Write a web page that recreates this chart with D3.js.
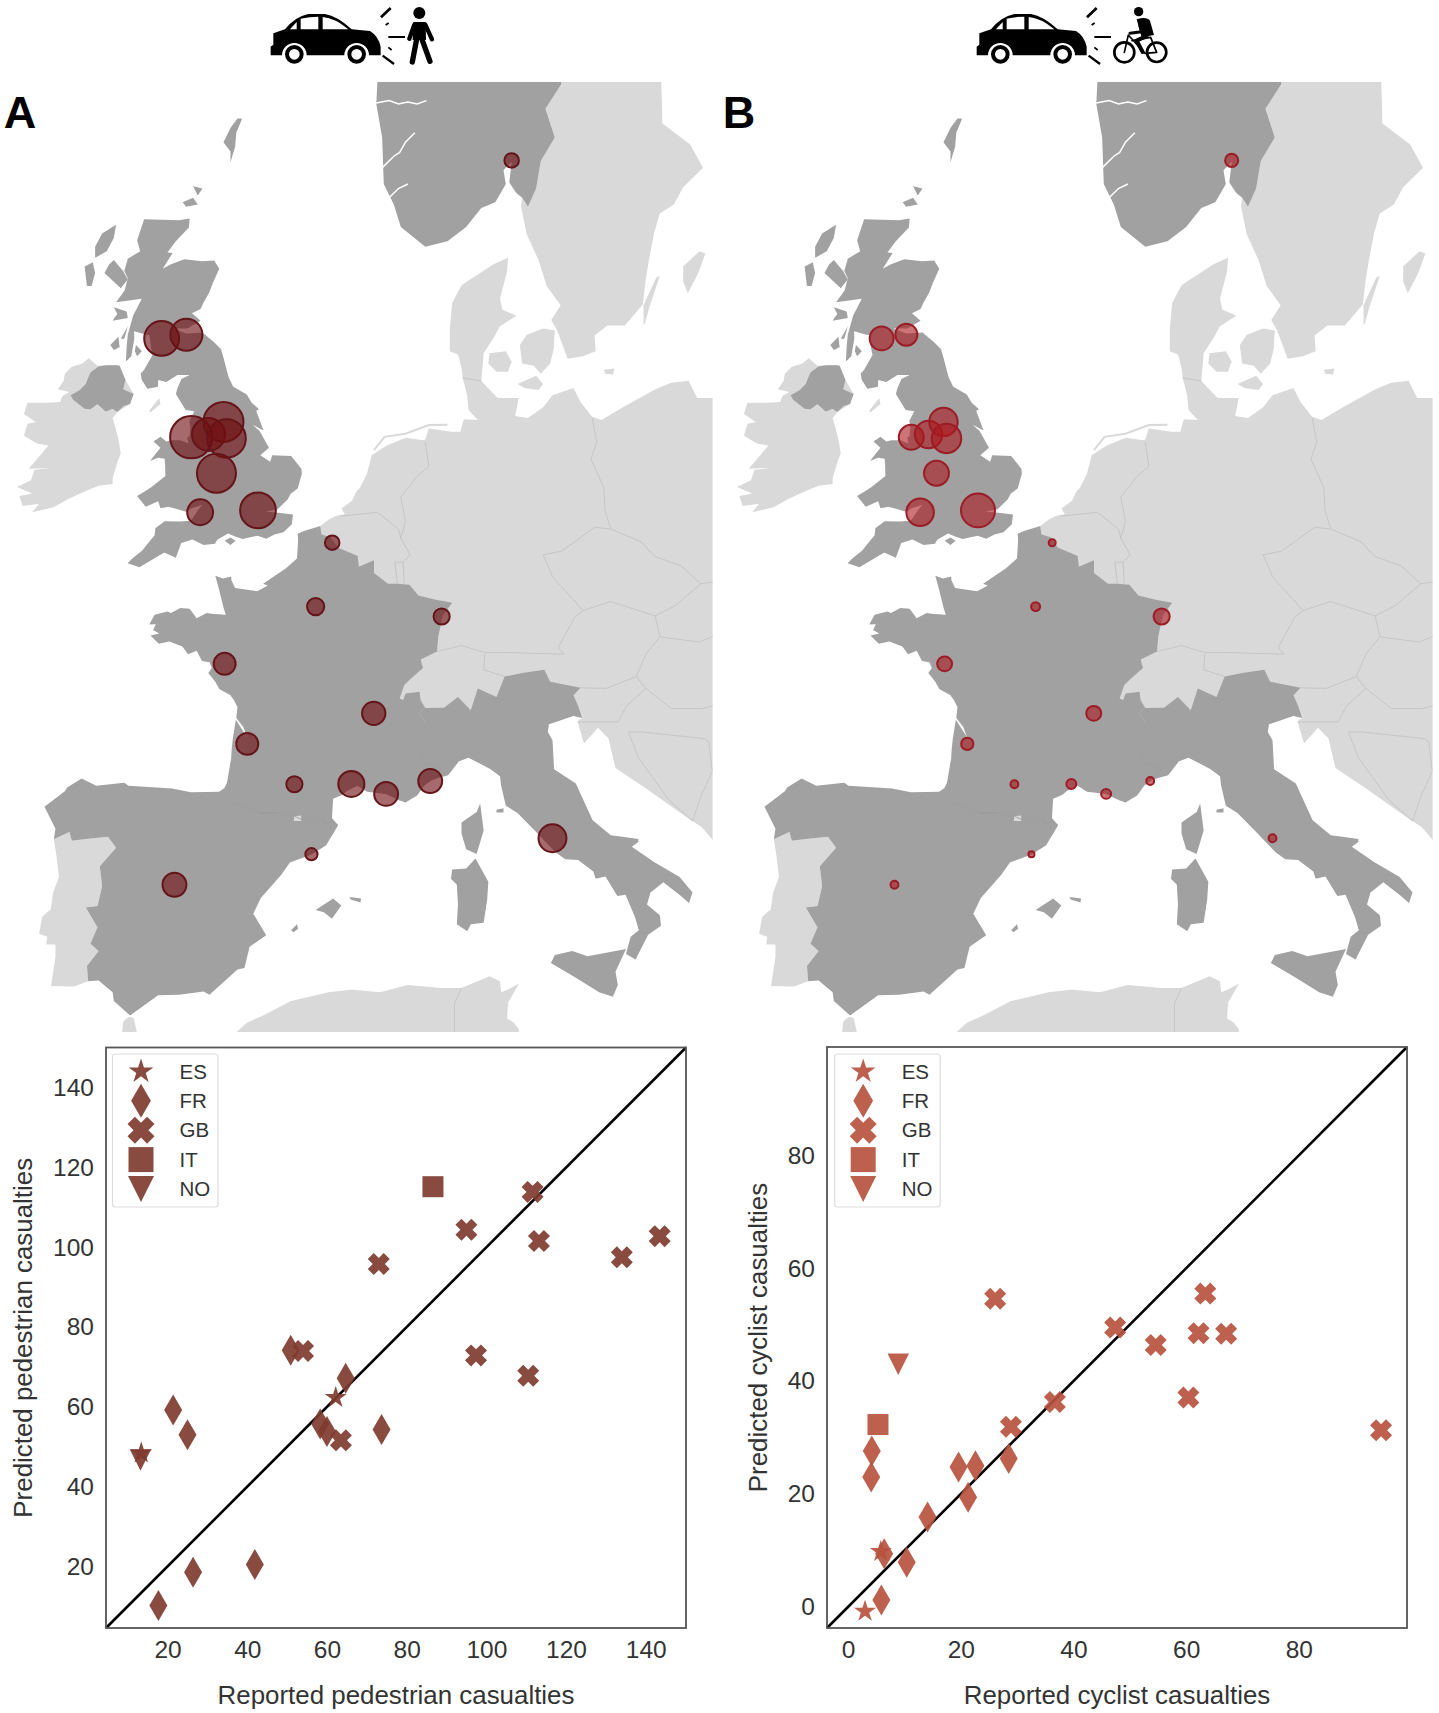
<!DOCTYPE html>
<html>
<head>
<meta charset="utf-8">
<script src="https://cdn.jsdelivr.net/npm/d3@7"></script>
<style>
  html, body { margin: 0; background: #fff; }
  text { font-family: "Liberation Sans", Arial, sans-serif; fill: #333; }
  .panel-letter { font-size: 45px; font-weight: bold; fill: #000; }
  .axis-label { font-size: 25.9px; }
  .legend-label { font-size: 20.5px; }
  .tick text { font-size: 24.5px; fill: #333; }
</style>
</head>
<body>
<script>
const w = 1439,
  h = 1713;

// reported / predicted casualties per country
const pedGB = [[73, 95.8], [95, 104.4], [111.6, 113.9], [113.2, 101.6], [134, 97.5], [143.5, 102.8], [97.4, 72.9], [110.5, 67.8], [54, 74], [63.5, 51.6]];
const pedFR = [[50.9, 74.2], [21.4, 59.2], [25, 53], [64.7, 67.2], [58.3, 55.7], [60, 53.8], [73.7, 54.3], [41.9, 20.5], [26.4, 18.5], [17.7, 10.2]];
const pedES = [[62.2, 62.3], [13.4, 48.4]];
const pedNO = [[13.2, 46.7]];
const pedIT = [[86.6, 115.2]];

const cycGB = [[26.1, 54.6], [63.4, 55.5], [47.4, 49.5], [62.2, 48.5], [67.1, 48.4], [54.6, 46.4], [60.4, 37.1], [36.7, 36.3], [28.9, 31.9], [94.6, 31.3]];
const cycFR = [[4.2, 27.6], [4.1, 23], [19.6, 24.8], [22.6, 25], [28.5, 26.3], [21.3, 19.4], [14.1, 15.9], [6.4, 9.4], [10.4, 7.9], [5.9, 1.2]];
const cycES = [[5.8, 9.8], [3, -0.8]];
const cycNO = [[8.9, 43]];
const cycIT = [[5.3, 32.3]];

const countries = ["ES", "FR", "GB", "IT", "NO"];
const pedTicks = [20, 40, 60, 80, 100, 120, 140];
const cycTicks = [0, 20, 40, 60, 80];

// cities on the maps, lon / lat
const cityNames = ["Glasgow", "Edinburgh", "Liverpool", "Manchester", "Leeds", "Sheffield", "Birmingham", "Bristol", "London", "Oslo", "Lille", "Paris", "Strasbourg", "Nantes", "Lyon", "Bordeaux", "Toulouse", "Montpellier", "Marseille", "Nice", "Barcelona", "Madrid", "Rome"];
const cityLon = [-4.25, -3.19, -2.98, -2.24, -1.6, -1.47, -1.9, -2.6, -0.12, 10.75, 3.06, 2.35, 7.75, -1.55, 4.84, -0.58, 1.44, 3.88, 5.37, 7.26, 2.17, -3.7, 12.5];
const cityLat = [55.86, 55.95, 53.41, 53.48, 53.8, 53.38, 52.48, 51.45, 51.5, 59.91, 50.63, 48.86, 48.58, 47.22, 45.76, 44.84, 43.6, 43.61, 43.3, 43.7, 41.39, 40.4, 41.9];
// bubble sizes, estimated from the circles
const cityPed = [98, 83, 144, 88, 129, 120, 123, 54, 103, 17, 17, 24, 21, 39, 44, 39, 21, 55, 46, 46, 12, 46, 63];
const cityCyc = [46, 39, 50, 61, 65, 70, 50, 61, 93, 14, 4, 6.5, 21, 18, 18, 12, 5, 8, 8, 5, 3, 5, 5];

// coast and border outlines, lon / lat
const greatBritain = [[-5, 58.62], [-3.5, 58.6], [-3.05, 58.64], [-3.08, 58.44], [-3.65, 58.12], [-4, 57.87], [-3.78, 57.86], [-4.2, 57.5], [-3.87, 57.6], [-3.28, 57.72], [-2.52, 57.67], [-2, 57.69], [-1.78, 57.5], [-2.07, 57.15], [-2.2, 56.96], [-2.46, 56.7], [-2.58, 56.56], [-2.95, 56.46], [-2.58, 56.28], [-3.15, 56.1], [-3.75, 56.1], [-3.2, 55.98], [-2.5, 56], [-2, 55.77], [-1.7, 55.6], [-1.57, 55.33], [-1.42, 55], [-1.37, 54.9], [-1.18, 54.68], [-0.6, 54.49], [-0.39, 54.28], [-0.08, 54.12], [-0.2, 54.08], [0.12, 53.58], [-0.35, 53.73], [-0.05, 53.57], [0.35, 53.14], [-0.02, 52.95], [0.4, 52.78], [0.49, 52.95], [1.3, 52.93], [1.74, 52.6], [1.76, 52.47], [1.58, 52.08], [1.28, 51.94], [1.15, 51.79], [0.72, 51.53], [0.2, 51.47], [0.76, 51.44], [1.38, 51.39], [1.33, 51.13], [0.97, 50.91], [0.58, 50.85], [0.24, 50.74], [-0.14, 50.82], [-0.78, 50.73], [-1.1, 50.8], [-1.4, 50.88], [-1.87, 50.71], [-1.96, 50.6], [-2.45, 50.57], [-2.93, 50.72], [-3.41, 50.62], [-3.64, 50.22], [-4.14, 50.36], [-5.2, 49.96], [-5.71, 50.07], [-5.48, 50.21], [-5.08, 50.42], [-4.93, 50.54], [-4.55, 50.83], [-4.52, 51.02], [-4.12, 51.21], [-3.47, 51.2], [-3, 51.22], [-2.7, 51.5], [-2.5, 51.65], [-3, 51.55], [-3.17, 51.46], [-3.95, 51.6], [-4.3, 51.56], [-4.4, 51.74], [-4.93, 51.6], [-5.3, 51.88], [-4.98, 52], [-4.68, 52.12], [-4.09, 52.41], [-4.1, 52.7], [-4.12, 52.86], [-4.4, 52.88], [-4.75, 52.8], [-4.3, 53.14], [-4.6, 53.3], [-4.3, 53.42], [-4.05, 53.3], [-3.83, 53.33], [-3.45, 53.33], [-3.1, 53.25], [-3.15, 53.4], [-3.05, 53.45], [-3.02, 53.65], [-3.06, 53.83], [-2.85, 54.07], [-3.22, 54.1], [-3.64, 54.5], [-3.57, 54.65], [-3.4, 54.87], [-3.05, 54.97], [-3.57, 54.97], [-4.05, 54.8], [-4.4, 54.85], [-4.4, 54.68], [-4.86, 54.63], [-5.1, 54.85], [-5.15, 55], [-5, 55.1], [-4.64, 55.46], [-4.7, 55.62], [-4.77, 55.95], [-4.5, 55.92], [-4.9, 55.95], [-5.43, 56.03], [-5.42, 55.86], [-5.55, 55.43], [-5.78, 55.3], [-5.75, 55.65], [-5.7, 55.95], [-5.47, 56.41], [-5.1, 56.8], [-6.2, 56.72], [-5.83, 57], [-5.7, 57.28], [-5.85, 57.45], [-5.7, 57.73], [-5.17, 57.9], [-5.3, 58.15]];
const scottishIslands = [
  [[-6.2, 58.5], [-6.3, 58.2], [-6.6, 57.9], [-7.1, 57.75], [-7.1, 58], [-6.8, 58.3]],
  [[-7.2, 57.65], [-7.1, 57.4], [-7.25, 57.1], [-7.45, 57.1], [-7.55, 57.55]],
  [[-6.3, 57.7], [-5.9, 57.45], [-5.7, 57.25], [-6, 57.05], [-6.3, 57.2], [-6.7, 57.4], [-6.5, 57.6]],
  [[-6.3, 56.6], [-5.75, 56.5], [-5.7, 56.35], [-6.35, 56.28], [-6.15, 56.45]],
  [[-6.45, 55.7], [-6.1, 55.9], [-6.05, 55.65], [-6.3, 55.58]],
  [[-6, 55.85], [-5.7, 56.15], [-5.85, 55.85]],
  [[-5.35, 55.7], [-5.1, 55.55], [-5.3, 55.43], [-5.4, 55.55]],
  [[-3.35, 59], [-2.9, 59.1], [-2.7, 58.95], [-3.2, 58.9]],
  [[-2.9, 59.35], [-2.5, 59.3], [-2.7, 59.15]],
  [[-1.3, 59.87], [-1.1, 60.2], [-1.05, 60.5], [-0.8, 60.8], [-1.0, 60.8], [-1.3, 60.6], [-1.6, 60.3], [-1.3, 60.1]],
  [[-1.55, 50.68], [-1.3, 50.77], [-1.08, 50.68], [-1.3, 50.57]]
];
const northernIreland = [[-7.3, 55.03], [-6.95, 55.18], [-6.65, 55.21], [-6.2, 55.21], [-6.05, 55.2], [-5.8, 54.85], [-5.9, 54.62], [-5.45, 54.5], [-5.55, 54.35], [-5.6, 54.25], [-5.88, 54.2], [-6.15, 54.05], [-6.35, 54.13], [-6.65, 54.06], [-7, 54.25], [-7.3, 54.12], [-7.55, 54.13], [-8.05, 54.36], [-8.15, 54.47], [-7.75, 54.6], [-7.5, 54.75], [-7.45, 54.83]];
const ireland = [[-7.37, 55.38], [-7, 55.2], [-6.2, 55.21], [-6.05, 55.2], [-5.8, 54.85], [-5.45, 54.5], [-5.6, 54.25], [-6.15, 54.05], [-6.35, 53.9], [-6.25, 53.7], [-6.1, 53.35], [-6, 53], [-6.15, 52.75], [-6.35, 52.35], [-6.35, 52.2], [-6.95, 52.15], [-7.55, 52], [-8.25, 51.8], [-8.9, 51.58], [-9.8, 51.45], [-9.5, 51.68], [-10.2, 51.62], [-10.35, 51.88], [-9.8, 51.95], [-10.45, 52.12], [-9.85, 52.3], [-9.7, 52.57], [-9, 52.62], [-9.95, 52.6], [-9.45, 52.95], [-9.1, 53.2], [-9.6, 53.25], [-10.15, 53.45], [-10, 53.75], [-9.65, 53.8], [-10.15, 54], [-10, 54.28], [-9.2, 54.28], [-8.6, 54.3], [-8.5, 54.45], [-8.2, 54.55], [-8.7, 54.62], [-8.45, 54.82], [-8.4, 55], [-8.1, 55.17], [-7.65, 55.25]];
const isleOfMan = [[-4.8, 54.07], [-4.35, 54.4], [-4.3, 54.25], [-4.7, 54.05]];
const france = [[2.55, 51.08], [1.85, 50.95], [1.58, 50.87], [1.6, 50.7], [1.55, 50.2], [1.08, 49.93], [0.1, 49.5], [0.3, 49.45], [-0.15, 49.29], [-1.1, 49.38], [-1.26, 49.6], [-1.27, 49.7], [-1.62, 49.65], [-1.95, 49.72], [-1.8, 49.37], [-1.6, 48.84], [-1.5, 48.63], [-2.03, 48.65], [-2.32, 48.68], [-2.75, 48.53], [-3.05, 48.8], [-3.45, 48.82], [-3.85, 48.68], [-4, 48.72], [-4.55, 48.63], [-4.78, 48.35], [-4.5, 48.36], [-4.62, 48.2], [-4.35, 48.1], [-4.73, 48.04], [-4.37, 47.8], [-3.92, 47.87], [-3.36, 47.72], [-3.12, 47.5], [-2.75, 47.6], [-2.52, 47.3], [-2.2, 47.27], [-2.1, 47.1], [-2.25, 46.95], [-1.95, 46.7], [-1.78, 46.48], [-1.3, 46.3], [-1.15, 46.15], [-1, 45.95], [-1.05, 45.62], [-0.75, 45.35], [-0.6, 45.05], [-0.78, 45.25], [-1.07, 45.57], [-1.2, 45], [-1.25, 44.65], [-1.27, 44.4], [-1.45, 43.65], [-1.56, 43.48], [-1.78, 43.37], [-1.4, 43.05], [-0.75, 42.95], [0, 42.7], [0.7, 42.7], [1.45, 42.6], [1.73, 42.5], [2.5, 42.35], [3.17, 42.43], [3.05, 42.55], [3.1, 43.15], [3.5, 43.27], [3.7, 43.4], [4.15, 43.55], [4.55, 43.37], [5.35, 43.3], [5.93, 43.1], [6.2, 43.03], [6.7, 43.25], [7, 43.55], [7.27, 43.7], [7.52, 43.78], [7.7, 44.1], [7, 44.25], [6.9, 44.4], [7.05, 44.7], [6.65, 45.05], [7.1, 45.45], [6.8, 45.75], [7.05, 45.92], [6.85, 46.15], [6.8, 46.4], [6.2, 46.35], [6.1, 46.15], [5.95, 46.2], [6.15, 46.6], [6.45, 46.8], [6.95, 47.1], [6.85, 47.35], [7.55, 47.58], [7.6, 48], [7.8, 48.6], [8.2, 48.97], [7.5, 49.05], [6.75, 49.17], [6.37, 49.47], [5.85, 49.5], [5.45, 49.5], [4.85, 49.8], [4.85, 50.15], [4.2, 49.97], [4.15, 50.27], [3.3, 50.5], [3, 50.78], [2.6, 50.85]];
const spain = [[-1.78, 43.37], [-3, 43.35], [-3.8, 43.47], [-5.67, 43.55], [-5.85, 43.65], [-7.05, 43.55], [-7.68, 43.78], [-8.3, 43.5], [-8.4, 43.38], [-9.27, 42.9], [-8.8, 42.2], [-8.87, 41.87], [-8.2, 42.1], [-8.1, 41.82], [-7.2, 41.9], [-6.55, 41.95], [-6.2, 41.6], [-6.9, 41], [-6.8, 40.35], [-7, 39.7], [-7.5, 39.65], [-7, 39], [-7.3, 38.45], [-6.95, 38.2], [-7.45, 37.7], [-7.4, 37.18], [-6.95, 37.2], [-6.35, 36.8], [-6.3, 36.5], [-5.6, 36], [-5.35, 36.15], [-4.4, 36.7], [-3.5, 36.72], [-2.45, 36.83], [-2.2, 36.72], [-1, 37.58], [-0.7, 37.63], [-0.48, 38.35], [0.23, 38.73], [-0.32, 39.45], [0, 39.97], [0.87, 40.72], [1.25, 41.12], [2.18, 41.38], [2.8, 41.68], [3.32, 42.32], [3.17, 42.43], [2.5, 42.35], [1.73, 42.5], [1.45, 42.6], [0.7, 42.7], [0, 42.7], [-0.75, 42.95], [-1.4, 43.05]];
const portugal = [[-8.87, 41.87], [-8.75, 41.3], [-8.65, 40.65], [-8.9, 40.15], [-9, 39.6], [-9.37, 39.35], [-9.5, 38.78], [-9.15, 38.68], [-9.2, 38.42], [-8.8, 38.42], [-8.8, 38], [-8.99, 37.02], [-8, 37], [-7.4, 37.18], [-7.45, 37.7], [-6.95, 38.2], [-7.3, 38.45], [-7, 39], [-7.5, 39.65], [-7, 39.7], [-6.8, 40.35], [-6.9, 41], [-6.2, 41.6], [-6.55, 41.95], [-7.2, 41.9], [-8.1, 41.82], [-8.2, 42.1]];
const italy = [[7.52, 43.78], [8.03, 43.88], [8.48, 44.3], [8.9, 44.42], [9.83, 44.07], [10.25, 43.85], [10.3, 43.55], [10.5, 42.93], [11, 42.7], [11.8, 42.1], [12.25, 41.75], [12.63, 41.45], [13.05, 41.23], [13.6, 41.2], [14.25, 40.83], [14.35, 40.6], [14.77, 40.67], [15.28, 40.03], [15.63, 40.07], [16.03, 39.35], [16.2, 38.9], [15.85, 38.68], [15.65, 38.1], [16.06, 37.92], [16.6, 38.75], [17.15, 39.05], [17.1, 39.4], [16.55, 39.75], [16.7, 40.15], [17.25, 40.48], [17.98, 40.05], [18.35, 39.8], [18.5, 40.15], [17.95, 40.65], [16.87, 41.13], [15.9, 41.63], [16.18, 41.78], [16.18, 41.88], [15.65, 41.93], [15, 42], [14.22, 42.47], [13.5, 43.62], [12.57, 44.06], [12.5, 44.95], [12.3, 45.2], [12.35, 45.43], [13.4, 45.68], [13.77, 45.62], [13.6, 45.98], [13.4, 46.3], [13.7, 46.52], [12.4, 46.7], [12.15, 47.05], [11.2, 46.95], [10.45, 46.85], [10.1, 46.25], [9.3, 46.5], [9, 45.85], [8.45, 46.25], [7.85, 45.93], [7.05, 45.92], [6.8, 45.75], [7.1, 45.45], [6.65, 45.05], [7.05, 44.7], [6.9, 44.4], [7, 44.25], [7.7, 44.1]];
const medIslands = [
  [[12.43, 37.8], [12.6, 38.07], [13.35, 38.2], [14, 38.03], [15.2, 38.2], [15.65, 38.27], [15.2, 37.5], [15.3, 37.05], [15.09, 36.65], [14.5, 36.8], [13.5, 37.3]],
  [[8.2, 40.9], [8.8, 40.93], [9.2, 41.25], [9.75, 40.5], [9.7, 39.9], [9.55, 39.15], [9, 39.1], [8.85, 38.87], [8.4, 39.1], [8.45, 39.75], [8.4, 40.4], [8.15, 40.6]],
  [[9.4, 43], [9.55, 42.15], [9.25, 41.4], [8.8, 41.55], [8.6, 42.05], [8.6, 42.4], [9.25, 42.73]],
  [[2.35, 39.57], [3.1, 39.95], [3.45, 39.72], [3.05, 39.28], [2.7, 39.5]],
  [[3.8, 40], [4.3, 39.95], [4.27, 39.82], [3.85, 39.92]],
  [[1.3, 38.9], [1.55, 39.1], [1.6, 38.95], [1.4, 38.83]],
  [[10.1, 42.8], [10.4, 42.85], [10.4, 42.72], [10.1, 42.72]]
];
const norway = [[5, 62], [13, 62], [12.87, 61.5], [12.2, 61], [12.6, 60.4], [12, 59.9], [11.8, 59.3], [11.45, 58.9], [11.2, 59.1], [10.95, 59.2], [10.65, 59.43], [10.75, 59.88], [10.4, 59.7], [10.5, 59.4], [10.05, 59], [9.45, 58.87], [8.8, 58.45], [8, 58.13], [7.05, 58], [6, 58.45], [5.7, 58.95], [5.27, 59.4], [5.2, 60.4], [4.95, 61.1], [5, 61.6]];
const fjords = [
  [[4.95, 61.12], [5.5, 61.17], [5.9, 61.1], [6.3, 61.14], [6.7, 61.1], [7.1, 61.17]],
  [[5.2, 59.75], [5.7, 60], [5.95, 60.08], [6.2, 60.3], [6.6, 60.5]],
  [[5.5, 59.1], [5.9, 59.3], [6.3, 59.4]]
];
const sweden = [[12.87, 62], [17.15, 62], [17.15, 61.7], [17.2, 61], [17.2, 60.7], [18.4, 60.25], [18.95, 59.75], [18.1, 59.33], [17.7, 58.95], [17.1, 58.75], [16.85, 58.3], [16.65, 57.75], [16.5, 57.27], [16.37, 56.67], [15.6, 56.17], [14.85, 56.17], [14.3, 55.93], [14.35, 55.55], [13.8, 55.43], [13.15, 55.37], [13, 55.6], [12.7, 56.05], [12.45, 56.3], [12.85, 56.65], [12.25, 57.1], [11.9, 57.7], [11.4, 58.28], [11.15, 58.9], [11.2, 59.1], [11.45, 58.9], [11.8, 59.3], [12, 59.9], [12.6, 60.4], [12.2, 61], [12.87, 61.5]];
const balticIslands = [
  [[18.1, 57.2], [18.1, 57.55], [18.8, 57.9], [19.05, 57.85], [18.75, 57.4], [18.3, 56.93]],
  [[16.4, 56.2], [16.4, 56.65], [16.95, 57.3], [17.1, 57.33], [16.65, 56.6], [16.45, 56.2]],
  [[9.8, 55.5], [10.5, 55.55], [10.75, 55.3], [10.6, 55.05], [10.1, 55.05], [9.75, 55.25]],
  [[11.1, 55.7], [11.4, 55.95], [12.1, 56.1], [12.6, 56.05], [12.55, 55.6], [12.4, 55.25], [12, 55], [11.7, 55.2], [11.2, 55.25]],
  [[11, 54.75], [11.8, 54.95], [12.1, 54.75], [11.9, 54.6], [11.3, 54.65]],
  [[14.7, 55.1], [15.15, 55.13], [15.1, 54.98], [14.75, 55]]
];
const continent = [[2.55, 51.08], [2.9, 51.25], [3.2, 51.35], [3.6, 51.4], [3.45, 51.55], [3.9, 51.75], [4.1, 52], [4.25, 52.1], [4.55, 52.47], [4.75, 52.95], [5.4, 53.2], [6.2, 53.4], [6.95, 53.33], [7.05, 53.35], [7.2, 53.63], [8.15, 53.55], [8.55, 53.55], [8.7, 53.87], [9.3, 53.85], [8.9, 54.1], [8.85, 54.45], [8.65, 54.9], [8.6, 55.15], [8.45, 55.47], [8.1, 55.55], [8.1, 56.1], [8.2, 56.7], [8.6, 57.12], [9.95, 57.6], [10.6, 57.75], [10.55, 57.43], [10.25, 56.8], [10.35, 56.55], [10.95, 56.4], [10.25, 56.15], [9.95, 55.85], [9.55, 55.5], [9.45, 54.82], [10.15, 54.4], [11.05, 54.4], [10.9, 53.95], [11.45, 53.9], [12.1, 54.17], [12.5, 54.47], [13.4, 54.65], [13.7, 54.3], [14.2, 53.93], [14.6, 53.85], [15.55, 54.18], [16.85, 54.6], [17.55, 54.77], [18.33, 54.83], [18.7, 54.4], [20, 54.4], [20, 41.8], [19.36, 41.85], [18.9, 42.25], [18.1, 42.65], [16.45, 43.5], [15.2, 44.1], [14.9, 45], [14.45, 45.33], [13.85, 44.85], [13.57, 45.52], [13.77, 45.62], [13.5, 45.8], [10, 45.6], [7.2, 45.4], [5, 45.4], [5, 47], [2.6, 50.6]];
const northAfrica = [[-1.2, 35], [-1.2, 35.3], [-0.6, 35.75], [0.1, 36], [1.3, 36.5], [2.9, 36.8], [3.9, 36.9], [5.1, 36.8], [6.3, 37.05], [7.75, 36.95], [8.6, 36.95], [9.8, 37.35], [10.25, 37.18], [10.3, 36.8], [10.6, 36.9], [11.07, 37.1], [10.6, 36.45], [10.55, 35.9], [10.85, 35.75], [11.07, 35.5], [11.07, 35]];
const morocco = [[-6, 35], [-5.9, 35.78], [-5.67, 35.95], [-5.45, 35.92], [-5.2, 35]];
const andorra = [[1.42, 42.6], [1.73, 42.62], [1.73, 42.45], [1.42, 42.45]];
const frisian = [[4.85, 53.08], [5.3, 53.42], [6.2, 53.5], [7.2, 53.72], [8, 53.73]];
const lightBorders = [
  [[3.4, 51.35], [4.3, 51.4], [5, 51.45], [5.9, 51], [6, 50.75]],
  [[7.05, 53.3], [7.2, 52.65], [6.7, 52.4], [6, 51.85], [6.2, 51.2], [6, 50.75]],
  [[6, 50.75], [6.4, 50.3], [6.1, 50.1], [6.15, 49.5]],
  [[5.85, 49.5], [5.75, 50.1], [6.1, 50.1]],
  [[8.65, 54.9], [9.45, 54.82]],
  [[14.2, 53.9], [14.4, 53.3], [14.15, 52.85], [14.7, 52.1], [14.75, 51.5], [15, 51]],
  [[15, 51], [14.3, 51.05], [12.9, 50.4], [12.1, 50.3], [12.5, 49.7], [13.8, 48.75]],
  [[13.8, 48.75], [13.45, 48.55], [12.75, 47.7], [13, 47.5], [10.5, 47.55], [9.6, 47.55]],
  [[9.6, 47.55], [8.6, 47.75], [7.55, 47.58]],
  [[9.6, 47.5], [9.55, 47.05], [10.45, 46.85]],
  [[15, 51], [16.3, 50.65], [16.9, 50.25], [18, 50], [18.85, 49.5]],
  [[13.8, 48.75], [15, 49], [16.9, 48.6]],
  [[16.9, 48.6], [17.8, 48.9], [18.85, 49.5], [19.4, 49.55], [20, 49.4]],
  [[16.9, 48.6], [17.1, 48], [16.5, 47.5], [16.1, 46.85]],
  [[17.1, 48], [18.8, 47.85], [20, 48.2]],
  [[13.7, 46.52], [14.8, 46.5], [16.1, 46.85]],
  [[13.6, 45.5], [14.1, 45.5], [15.3, 45.5], [15.7, 46], [16.5, 46.5], [16.1, 46.85]],
  [[16.5, 46.5], [17.6, 45.9], [18.9, 45.9], [20, 46.1]],
  [[15.75, 45.2], [16.3, 45.2], [17, 45.15], [19, 45], [19.2, 44.9], [19.35, 44], [18.9, 43.3], [18.5, 42.45]],
  [[15.75, 45.2], [16.2, 44.4], [17.5, 43.1], [18.5, 42.45]],
  [[8.6, 36.95], [8.3, 36.4], [8.3, 35]]
];
const darkBorders = [
  [[-1.78, 43.37], [-1.4, 43.05], [-0.75, 42.95], [0, 42.7], [0.7, 42.7], [1.45, 42.6], [1.73, 42.5], [2.5, 42.35], [3.17, 42.43]],
  [[7.52, 43.78], [7.7, 44.1], [7, 44.25], [6.9, 44.4], [7.05, 44.7], [6.65, 45.05], [7.1, 45.45]]
];

const svg = d3.select("body").append("svg").attr("width", w).attr("height", h);
svg.append("rect").attr("width", w).attr("height", h).attr("fill", "#fff");

// thin diamond, filled X and down triangle aren't in d3, so add them
const symbolThinDiamond = {
  draw(c, size) {
    const t = Math.sqrt(size) / 2;
    c.moveTo(0, -t);
    c.lineTo(t * 0.58, 0);
    c.lineTo(0, t);
    c.lineTo(-t * 0.58, 0);
    c.closePath();
  },
};
const symbolFilledX = {
  draw(c, size) {
    const t = Math.sqrt(size) / 2;
    [[-1, -0.45], [-0.45, -1], [0, -0.55], [0.45, -1], [1, -0.45], [0.55, 0], [1, 0.45], [0.45, 1], [0, 0.55], [-0.45, 1], [-1, 0.45], [-0.55, 0]].forEach((p, i) => {
      if (i === 0) c.moveTo(p[0] * t, p[1] * t);
      else c.lineTo(p[0] * t, p[1] * t);
    });
    c.closePath();
  },
};
const symbolTriangleDown = {
  draw(c, size) {
    const t = Math.sqrt(size) / 2;
    c.moveTo(-t, -t);
    c.lineTo(t, -t);
    c.lineTo(0, t);
    c.closePath();
  },
};

const markerTypes = { ES: d3.symbolStar, FR: symbolThinDiamond, GB: symbolFilledX, IT: d3.symbolSquare, NO: symbolTriangleDown };
const markerSize = { ES: 150, FR: 961, GB: 484, IT: 441, NO: 462 };
const legendSize = { ES: 190, FR: 1156, GB: 729, IT: 625, NO: 676 };

const radius = (v) => 1.76 * Math.sqrt(v);
const lineGen = d3.line();

function drawMap(offset, sizes, fillColor, strokeColor, id) {
  const projection = d3.geoMercator().scale(1337).translate([260.8 + offset, 1917]);
  const outline = (pts) => lineGen(pts.map((p) => projection(p))) + "Z";
  const polyline = (pts) => lineGen(pts.map((p) => projection(p)));

  svg
    .append("clipPath")
    .attr("id", id)
    .append("rect")
    .attr("x", offset)
    .attr("y", 82)
    .attr("width", 712.6)
    .attr("height", 950);

  const g = svg.append("g").attr("clip-path", `url(#${id})`);

  const light = [continent, ireland, isleOfMan, sweden, portugal, northAfrica, morocco, andorra].concat(balticIslands);
  g.selectAll(".light")
    .data(light)
    .enter()
    .append("path")
    .attr("class", "light")
    .attr("d", outline)
    .attr("fill", "#d9d9d9");

  g.append("path")
    .attr("d", polyline(frisian))
    .attr("fill", "none")
    .attr("stroke", "#d9d9d9")
    .attr("stroke-width", 2);

  g.selectAll(".border")
    .data(lightBorders)
    .enter()
    .append("path")
    .attr("class", "border")
    .attr("d", polyline)
    .attr("fill", "none")
    .attr("stroke", "#c6c6c6")
    .attr("stroke-width", 1);

  const dark = [greatBritain, northernIreland, france, spain, italy, norway].concat(scottishIslands, medIslands);
  g.selectAll(".dark")
    .data(dark)
    .enter()
    .append("path")
    .attr("class", "dark")
    .attr("d", outline)
    .attr("fill", "#a1a1a1");

  g.append("path")
    .attr("d", outline(andorra))
    .attr("fill", "#d9d9d9");

  g.selectAll(".fjord")
    .data(fjords)
    .enter()
    .append("path")
    .attr("class", "fjord")
    .attr("d", polyline)
    .attr("fill", "none")
    .attr("stroke", "#fff")
    .attr("stroke-width", 1.5);

  g.selectAll(".dark-border")
    .data(darkBorders)
    .enter()
    .append("path")
    .attr("class", "dark-border")
    .attr("d", polyline)
    .attr("fill", "none")
    .attr("stroke", "#949494")
    .attr("stroke-width", 0.7);

  g.selectAll("circle")
    .data(cityNames)
    .enter()
    .append("circle")
    .attr("cx", (d, i) => projection([cityLon[i], cityLat[i]])[0])
    .attr("cy", (d, i) => projection([cityLon[i], cityLat[i]])[1])
    .attr("r", (d, i) => radius(sizes[i]))
    .attr("fill", fillColor)
    .attr("stroke", strokeColor)
    .attr("stroke-width", 2);
}

function drawScatter(box, domain, ticks, series, color, xTitle, yTitle, yTitleX, legendX) {
  const x = d3.scaleLinear().domain(domain).range([box.left, box.right]);
  const y = d3.scaleLinear().domain(domain).range([box.bottom, box.top]);

  svg
    .append("g")
    .attr("transform", `translate(0,${box.bottom})`)
    .call(d3.axisBottom(x).tickValues(ticks).tickSize(0).tickPadding(13))
    .call((g) => g.select(".domain").remove());

  svg
    .append("g")
    .attr("transform", `translate(${box.left},0)`)
    .call(d3.axisLeft(y).tickValues(ticks).tickSize(0).tickPadding(12))
    .call((g) => g.select(".domain").remove());

  svg
    .append("text")
    .attr("class", "axis-label")
    .attr("x", (box.left + box.right) / 2)
    .attr("y", 1704)
    .attr("text-anchor", "middle")
    .text(xTitle);

  svg
    .append("text")
    .attr("class", "axis-label")
    .attr("transform", `translate(${yTitleX},${(box.top + box.bottom) / 2}) rotate(-90)`)
    .attr("text-anchor", "middle")
    .text(yTitle);

  svg
    .append("line")
    .attr("x1", x(domain[0]))
    .attr("y1", y(domain[0]))
    .attr("x2", x(domain[1]))
    .attr("y2", y(domain[1]))
    .attr("stroke", "#000")
    .attr("stroke-width", 2.6);

  countries.forEach((name) => {
    const symbol = d3.symbol().type(markerTypes[name]).size(markerSize[name]);
    svg
      .append("g")
      .selectAll("path")
      .data(series[name])
      .enter()
      .append("path")
      .attr("d", symbol)
      .attr("transform", (d) => `translate(${x(d[0])},${y(d[1])})`)
      .attr("fill", color)
      .attr("fill-opacity", 0.92);
  });

  svg
    .append("rect")
    .attr("x", box.left)
    .attr("y", box.top)
    .attr("width", box.right - box.left)
    .attr("height", box.bottom - box.top)
    .attr("fill", "none")
    .attr("stroke", "#555")
    .attr("stroke-width", 1.8);

  // legend
  svg
    .append("rect")
    .attr("x", legendX)
    .attr("y", 1054)
    .attr("width", 105.5)
    .attr("height", 153)
    .attr("rx", 3)
    .attr("fill", "#fff")
    .attr("fill-opacity", 0.8)
    .attr("stroke", "#ddd")
    .attr("stroke-width", 1.2);

  const rowY = d3.scalePoint().domain(countries).range([1071.4, 1189]);
  countries.forEach((name) => {
    svg
      .append("path")
      .attr("d", d3.symbol().type(markerTypes[name]).size(legendSize[name]))
      .attr("transform", `translate(${legendX + 28.5},${rowY(name)})`)
      .attr("fill", color)
      .attr("fill-opacity", 0.92);
    svg
      .append("text")
      .attr("class", "legend-label")
      .attr("x", legendX + 67)
      .attr("y", rowY(name))
      .attr("dy", "0.35em")
      .text(name);
  });
}

function drawCar(g) {
  g.append("path")
    .attr("d", "M62,166 L62,140 L70,134 L70,100 L105,88 Q135,50 175,42 L225,42 Q262,48 305,88 L360,93 Q385,108 392,140 L392,166 L357,166 A37,37 0 0 0 283,166 L170,166 A37,37 0 0 0 96,166 Z")
    .attr("fill", "#000");
  g.append("path").attr("d", "M120,88 L140,66 L140,88 Z").attr("fill", "#fff");
  g.append("path").attr("d", "M152,88 L152,56 Q178,50 205,50 L205,88 Z").attr("fill", "#fff");
  g.append("path").attr("d", "M218,88 L218,51 Q255,54 295,88 Z").attr("fill", "#fff");
  [133, 320].forEach((cx) => {
    g.append("circle").attr("cx", cx).attr("cy", 163).attr("r", 22).attr("fill", "#fff").attr("stroke", "#000").attr("stroke-width", 12);
  });
  const sparks = [[393, 52, 422, 24, 8], [407, 75, 416, 69, 5], [415, 111, 465, 111, 6], [415, 142, 425, 150, 5], [398, 167, 432, 192, 7]];
  sparks.forEach((s) => {
    g.append("line").attr("x1", s[0]).attr("y1", s[1]).attr("x2", s[2]).attr("y2", s[3]).attr("stroke", "#000").attr("stroke-width", s[4]);
  });
}

function strokePath(g, d, width) {
  g.append("path")
    .attr("d", d)
    .attr("fill", "none")
    .attr("stroke", "#000")
    .attr("stroke-width", width)
    .attr("stroke-linecap", "round")
    .attr("stroke-linejoin", "round");
}

// pedestrian icon
const iconA = svg.append("g").attr("transform", "translate(250,0) scale(0.3333)");
drawCar(iconA);
iconA.append("circle").attr("cx", 508).attr("cy", 39).attr("r", 18).attr("fill", "#000");
iconA.append("path").attr("d", "M490,66 L527,66 L528,120 L488,120 Z").attr("fill", "#000");
strokePath(iconA, "M493,74 L478,116", 13);
strokePath(iconA, "M526,74 L546,118", 13);
strokePath(iconA, "M500,118 L487,186", 16);
strokePath(iconA, "M516,118 L540,184", 16);

// cyclist icon, the rider sits 12 units further right than the car's own frame
const iconB = svg.append("g").attr("transform", "translate(956,0) scale(0.3333)");
drawCar(iconB);
const rider = iconB.append("g").attr("transform", "translate(12,0)");
rider.append("circle").attr("cx", 536).attr("cy", 35).attr("r", 14).attr("fill", "#000");
rider.append("path").attr("d", "M530,58 Q560,48 570,62 L582,105 L545,112 Z").attr("fill", "#000");
strokePath(rider, "M540,78 L545,95 L510,100", 9);
strokePath(rider, "M560,108 L530,122 L548,156", 12);
[[493, 157, 30], [590, 157, 29]].forEach((c) => {
  rider.append("circle").attr("cx", c[0]).attr("cy", c[1]).attr("r", c[2]).attr("fill", "none").attr("stroke", "#000").attr("stroke-width", 8);
});
strokePath(rider, "M493,157 L505,105 L555,160 L590,157 L572,112 L516,122", 5);

drawMap(0, cityPed, "rgba(112,14,18,0.62)", "#651519", "clipA");
drawMap(720, cityCyc, "rgba(172,24,30,0.6)", "#9c1c25", "clipB");

svg.append("text").attr("class", "panel-letter").attr("x", 20).attr("y", 128).attr("text-anchor", "middle").text("A");
svg.append("text").attr("class", "panel-letter").attr("x", 739).attr("y", 128).attr("text-anchor", "middle").text("B");

drawScatter(
  { left: 106, right: 686, top: 1047.5, bottom: 1628 },
  [4.55, 150.1],
  pedTicks,
  { ES: pedES, FR: pedFR, GB: pedGB, IT: pedIT, NO: pedNO },
  "#7f3b30",
  "Reported pedestrian casualties",
  "Predicted pedestrian casualties",
  31.5,
  112.5
);
drawScatter(
  { left: 827, right: 1407, top: 1047, bottom: 1628 },
  [-3.75, 99.2],
  cycTicks,
  { ES: cycES, FR: cycFR, GB: cycGB, IT: cycIT, NO: cycNO },
  "#b7533f",
  "Reported cyclist casualties",
  "Predicted cyclist casualties",
  767,
  834.7
);
</script>
</body>
</html>
